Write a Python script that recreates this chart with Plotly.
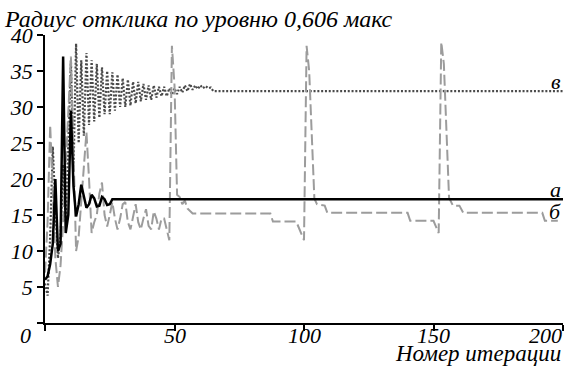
import plotly.graph_objects as go

# Series а (solid black)
a_x = [0, 1, 2, 3, 4, 5, 6, 7, 8, 9, 10, 11, 12, 13, 14, 15, 16, 17, 18, 19, 20,
       21, 22, 23, 24, 25, 26, 27, 200]
a_y = [6, 6.5, 8.2, 11, 20, 10, 11, 37, 12.5, 15, 29.5, 19, 14.8, 16.5, 19.2, 17.5,
       16, 16.5, 17.8, 17.3, 16.2, 16.3, 17.5, 17.2, 16.4, 16.5, 17.2, 17.2, 17.2]

# Series б (dashed grey)
b_x = [0, 1, 2, 3, 4, 5, 6, 7, 8, 9, 10, 11, 12, 13, 14, 15, 16, 17, 18, 19,
       20, 21, 22, 23, 24, 25, 26, 27, 28, 29, 30, 31, 32, 33, 34, 35, 36, 37, 38, 39,
       40, 41, 42, 43, 44, 45, 46, 47, 48, 49, 50, 51, 52, 53, 54, 55, 56, 57,
       87, 88, 97, 98, 100, 101, 102, 104, 105, 108, 109,
       140, 141, 150, 152, 153, 154, 156, 157.5, 160, 161.5, 192, 193, 198]
b_y = [7, 14, 27.5, 18, 9, 5, 8, 14, 22, 31, 37, 24, 10, 12, 17, 22, 26.5, 20, 12.5, 14,
       15, 18, 19.5, 15, 13.4, 15, 16.8, 14.5, 13, 14.5, 16.5, 16.8, 14, 13, 15, 16.5, 14, 13, 14.5, 15.8,
       13.5, 13, 15.5, 14.5, 13, 14.5, 14.5, 13, 11.5, 38.5, 33, 17.8, 17.5, 16.5, 17, 15.9, 15.5, 15.2,
       15.2, 14.1, 14.1, 13.2, 11.5, 38.5, 35, 17.3, 16.5, 16.3, 15.3,
       15.3, 14.2, 14.2, 12.5, 39, 36, 17.4, 16.3, 16.3, 15.3, 15.3, 14.2, 14.2]

# Series в (dotted dark grey)
c_x = list(range(0, 67)) + [200]
c_y = [5.5, 3.8, 12, 24.5, 16, 9, 12, 22, 14, 27, 36.5, 21, 38.8, 25, 36.5, 26, 37.5, 27.5,
       36.5, 28, 36, 28.5, 35.5, 29, 35, 29, 34.8, 29.5, 34.5, 30, 34, 30, 33.8, 30.2, 33.5,
       30.5, 33.5, 30.8, 33.2, 31, 33, 31, 33, 31.3, 32.8, 31.5, 32.8, 31.5, 32.6, 31.7,
       32.6, 31.8, 32.8, 32, 33, 32.2, 33.2, 32.4, 33, 32.5, 33, 32.6, 32.9, 32.6, 32.7,
       32.2, 32.2, 32.2]

y_ticks = [0, 5, 10, 15, 20, 25, 30, 35, 40]
y_ticktext = ["", "5", "10", "15", "20", "25", "30", "35", "40"]
x_ticks = [0, 50, 100, 150, 200]
x_ticktext = ["0", "50", "100", "150", "200"]

FONT = "Liberation Serif, Times New Roman, DejaVu Serif, serif"

fig = go.Figure()
fig.add_trace(go.Scatter(x=c_x, y=c_y, mode="lines",
                         line=dict(color="#4a4a4a", width=2.2, dash="2px,1.8px")))
fig.add_trace(go.Scatter(x=b_x, y=b_y, mode="lines",
                         line=dict(color="#9c9c9c", width=2, dash="11px,4px")))
fig.add_trace(go.Scatter(x=a_x, y=a_y, mode="lines",
                         line=dict(color="black", width=2.5)))

fig.update_layout(
    width=567, height=370,
    margin=dict(l=45, r=4, t=35, b=47, autoexpand=False),
    paper_bgcolor="white", plot_bgcolor="white",
    showlegend=False,
    font=dict(family=FONT, size=22, color="black", style="italic"),
)
fig.update_xaxes(range=[0, 200], tickvals=x_ticks, showticklabels=False,
                 showgrid=False, zeroline=False, showline=True, linecolor="black",
                 linewidth=1.5, ticks="outside", ticklen=6, tickwidth=1.5, tickcolor="black")
fig.update_yaxes(range=[0, 40], tickvals=y_ticks, ticktext=y_ticktext,
                 showgrid=False, zeroline=False, showline=True, linecolor="black",
                 linewidth=1.5, ticks="outside", ticklen=6, tickwidth=1.5, tickcolor="black",
                 tickfont=dict(family=FONT, size=22, style="italic"))

ann_font = dict(family=FONT, size=23, color="black", style="italic")
tick_font = dict(family=FONT, size=22, color="black", style="italic")

# x tick labels (0 sits at the corner, 200 is kept inside the frame)
for xv, txt in zip(x_ticks, x_ticktext):
    if xv == 0:
        fig.add_annotation(text=txt, xref="paper", yref="paper", x=-20/518, y=-12/288,
                           xanchor="center", yanchor="middle", showarrow=False, font=tick_font)
    elif xv == 200:
        fig.add_annotation(text=txt, xref="paper", yref="paper", x=1 + 1/518, y=-12/288,
                           xanchor="right", yanchor="middle", showarrow=False, font=tick_font)
    else:
        fig.add_annotation(text=txt, x=xv, xref="x", yref="paper", y=-12/288,
                           xanchor="center", yanchor="middle", showarrow=False, font=tick_font)

fig.add_annotation(text="Радиус отклика по уровню 0,606 макс", xref="paper", yref="paper",
                   x=-43/518, y=1 + 16/288, xanchor="left", yanchor="middle",
                   showarrow=False, font=dict(family=FONT, size=24, color="black", style="italic"))
fig.add_annotation(text="Номер итерации", xref="paper", yref="paper",
                   x=1, y=-30/288, xanchor="right", yanchor="middle",
                   showarrow=False, font=ann_font)
fig.add_annotation(text="в", x=200, y=33.6, xanchor="right", yanchor="middle",
                   showarrow=False, font=tick_font)
fig.add_annotation(text="а", x=200, y=18.6, xanchor="right", yanchor="middle",
                   showarrow=False, font=tick_font)
fig.add_annotation(text="б", x=200, y=15.5, xanchor="right", yanchor="middle",
                   showarrow=False, font=tick_font)

fig.write_html("out.html", config={"displayModeBar": False},
               post_script="document.body.style.margin='0';")
